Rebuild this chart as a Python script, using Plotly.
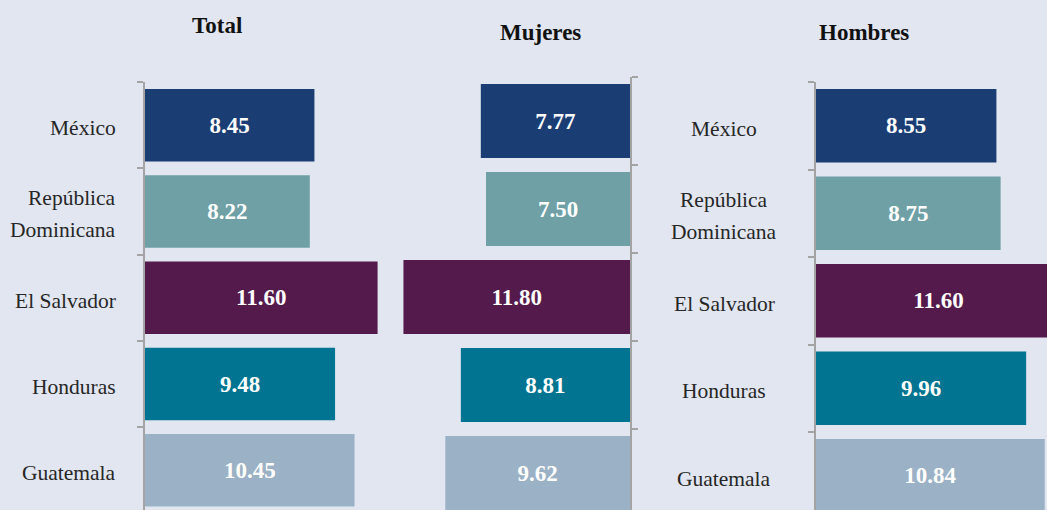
import plotly.graph_objects as go

# data
paises = ["México", "República<br>Dominicana", "El Salvador", "Honduras", "Guatemala"]
total = [8.45, 8.22, 11.60, 9.48, 10.45]
mujeres = [7.77, 7.50, 11.80, 8.81, 9.62]
hombres = [8.55, 8.75, 11.60, 9.96, 10.84]
titulos = ["Total", "Mujeres", "Hombres"]

colores = ['#1A3D74', '#6FA0A6', '#541A4C', '#007491', '#9BB1C5']
W, H = 1047, 510
SERIF = "Liberation Serif"


def barras(vals, xa, ya):
    return go.Bar(
        x=vals, y=paises, orientation='h', xaxis=xa, yaxis=ya,
        marker={'color': colores, 'line': {'width': 0}},
        texttemplate='<b>%{x:.2f}</b>',
        textposition='inside', insidetextanchor='middle', textangle=0,
        constraintext='none', cliponaxis=True,
        textfont={'color': 'white', 'size': 23, 'family': SERIF},
        hoverinfo='skip', showlegend=False,
    )


fig = go.Figure()
fig.add_trace(barras(total, 'x', 'y'))
fig.add_trace(barras(mujeres, 'x2', 'y2'))
fig.add_trace(barras(hombres, 'x3', 'y3'))

eje_y = dict(type='category', showline=True, linecolor='#A3A3A3', linewidth=2,
             ticks='outside', tickson='boundaries', ticklen=6, tickwidth=1.5,
             tickcolor='#A3A3A3', showticklabels=False, showgrid=False,
             fixedrange=True)
eje_x = dict(visible=False, showgrid=False, zeroline=False, fixedrange=True)

fig.update_layout(
    width=W, height=H,
    paper_bgcolor='#E2E6F1', plot_bgcolor='#E2E6F1',
    margin={'l': 0, 'r': 0, 't': 0, 'b': 0},
    bargap=0.16,
    font={'family': SERIF, 'color': '#262626', 'size': 21.5},
    xaxis=dict(eje_x, domain=[145 / W, 400 / W], range=[0, 255 / 20.05], anchor='y'),
    yaxis=dict(eje_y, domain=[0, 1 - 82 / H], range=[-0.5 + 428 / 86.3, -0.5], anchor='x'),
    xaxis2=dict(eje_x, domain=[390 / W, 630 / W], range=[240 / 19.2, 0], anchor='y2'),
    yaxis2=dict(eje_y, domain=[0, 1 - 77 / H], range=[-0.5 + 433 / 88, -0.5], anchor='x2', side='right'),
    xaxis3=dict(eje_x, domain=[816 / W, 1], range=[0, 231 / 21.1], anchor='y3'),
    yaxis3=dict(eje_y, domain=[0, 1 - 82 / H], range=[-0.5 + 428 / 87.5, -0.5], anchor='x3'),
)

# titulos de los paneles
for t, xp, yp in zip(titulos, [217, 540, 864], [25, 32, 32]):
    fig.add_annotation(text='<b>' + t + '</b>', xref='paper', yref='paper',
                       x=xp / W, y=1 - yp / H, xanchor='center', yanchor='middle',
                       showarrow=False, font={'size': 23, 'color': '#111111', 'family': SERIF})

# etiquetas de paises (Total a la derecha, Hombres centradas)
for p in paises:
    lineas = p.split('<br>')
    n = len(lineas)
    for i, ln in enumerate(lineas):
        dy = -3 + (n - 1) * 16 - i * 32
        fig.add_annotation(text=ln, xref='paper', yref='y', x=118 / W, y=p,
                           xanchor='right', yanchor='middle', yshift=dy, showarrow=False,
                           align='center')
        fig.add_annotation(text=ln, xref='paper', yref='y3', x=724 / W, y=p,
                           xanchor='center', yanchor='middle', yshift=dy, showarrow=False)

fig.write_html("out.html", config={'displayModeBar': False},
               post_script="document.body.style.margin='0';")
